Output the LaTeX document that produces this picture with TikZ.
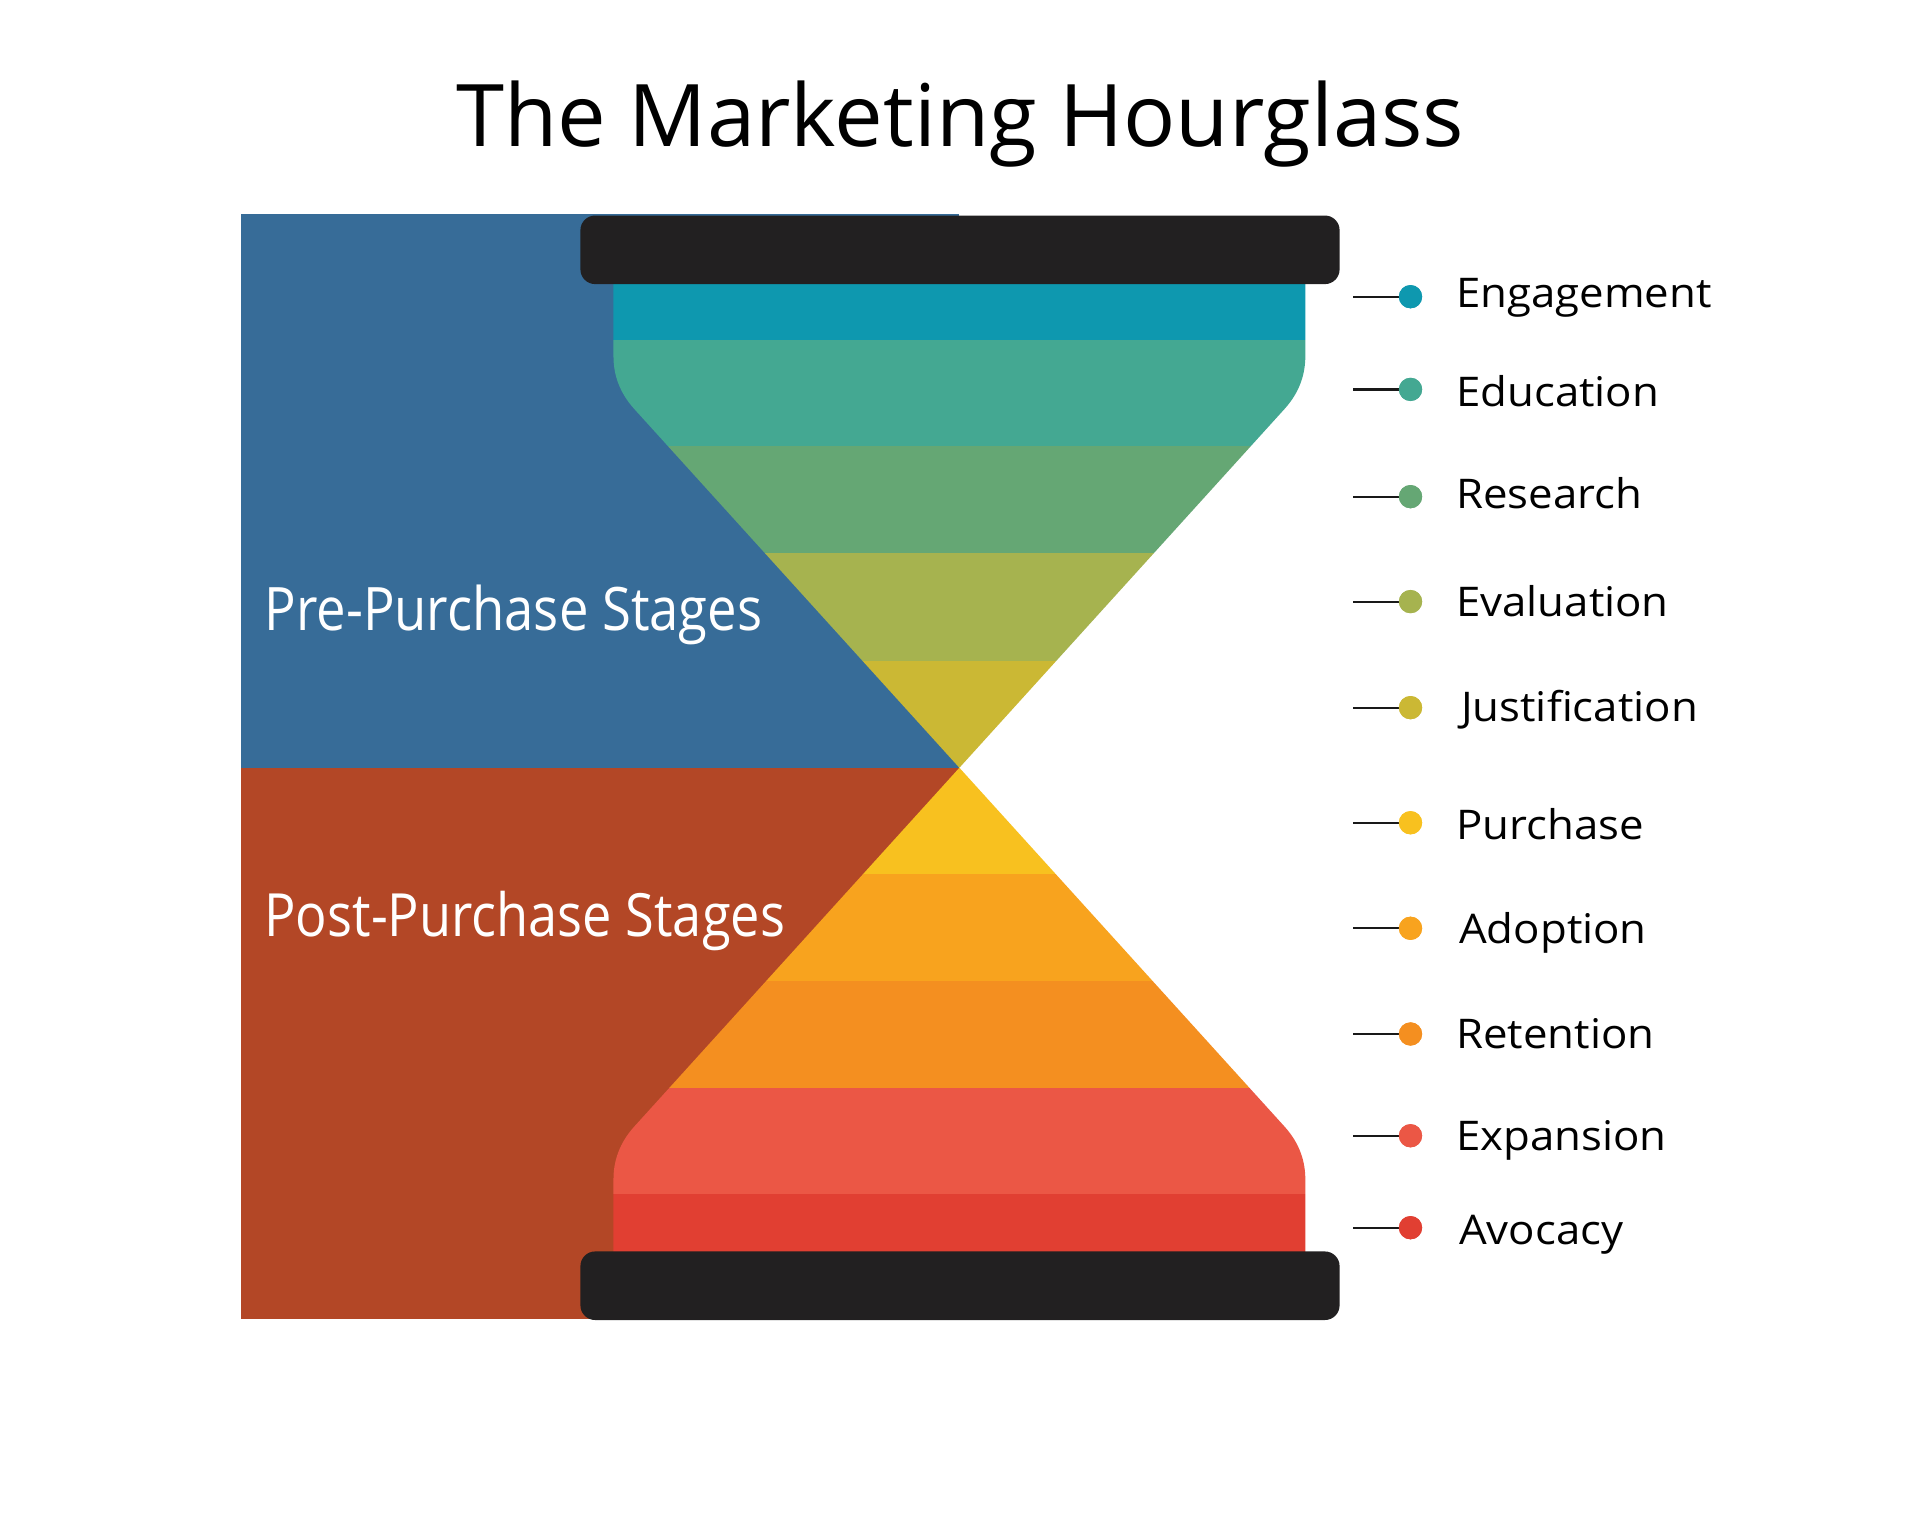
\documentclass[tikz,border=0pt]{standalone}
\usepackage{fontspec}
\setmainfont{Open Sans}
\usepackage{graphicx}
\definecolor{preblue}{RGB}{55,108,152}
\definecolor{postred}{RGB}{179,71,38}
\definecolor{barblack}{RGB}{34,32,33}
\definecolor{cEng}{RGB}{14,152,175}
\definecolor{cEdu}{RGB}{68,168,146}
\definecolor{cRes}{RGB}{101,167,116}
\definecolor{cEva}{RGB}{166,179,79}
\definecolor{cJus}{RGB}{203,184,52}
\definecolor{cPur}{RGB}{248,193,31}
\definecolor{cAdo}{RGB}{248,163,30}
\definecolor{cRet}{RGB}{244,143,32}
\definecolor{cExp}{RGB}{235,87,69}
\definecolor{cAvo}{RGB}{225,63,50}
\tikzset{
  legdot/.style={circle,inner sep=0pt,minimum size=19pt,fill=#1},
  leglabel/.style={anchor=base west,inner sep=0pt,font=\fontsize{33.4}{40}\selectfont,text=black},
  legline/.style={draw=black!90,line width=1.8pt},
  barshape/.style={fill=barblack,rounded corners=12pt},
  stagelabel/.style={anchor=base west,inner sep=0pt,text=white},
}
\begin{document}
\begin{tikzpicture}[x=1pt,y=-1pt]
\useasboundingbox (0,0) rectangle (1568,1254);
\fill[white] (0,0) rectangle (1568,1254);
% title
\node[anchor=base west,inner sep=0pt] (title) at (372.5,119.3) {\resizebox{823pt}{53.6pt}{The Marketing Hourglass}};
% stage panels
\fill[preblue] (197,175) rectangle (783.5,627);
\fill[postred] (197,627) rectangle (783.5,1077.5);
% upper bulb
\begin{scope}
\clip (501,228) -- (501,291) .. controls (501,305) and (505.3,320) .. (518,334) -- (783.5,627)
      -- (1049,334) .. controls (1061.7,320) and (1066,305) .. (1066,291) -- (1066,228) -- cycle;
\fill[cEng] (490,228) rectangle (1080,277.5);
\fill[cEdu] (490,277.5) rectangle (1080,364.5);
\fill[cRes] (490,364.5) rectangle (1080,452);
\fill[cEva] (490,452) rectangle (1080,539.5);
\fill[cJus] (490,539.5) rectangle (1080,627);
\end{scope}
% lower bulb
\begin{scope}
\clip (501,1026) -- (501,963) .. controls (501,949) and (505.3,934) .. (518,920) -- (783.5,627)
      -- (1049,920) .. controls (1061.7,934) and (1066,949) .. (1066,963) -- (1066,1026) -- cycle;
\fill[cPur] (490,627) rectangle (1080,713.5);
\fill[cAdo] (490,713.5) rectangle (1080,801);
\fill[cRet] (490,801) rectangle (1080,888.5);
\fill[cExp] (490,888.5) rectangle (1080,975);
\fill[cAvo] (490,975) rectangle (1080,1026);
\end{scope}
% caps
\fill[barshape] (474,176) rectangle (1094,232);
\fill[barshape] (474,1022) rectangle (1094,1078);
% stage labels
\node[stagelabel] (pre) at (215.8,515) {\resizebox{406.5pt}{37.2pt}{Pre-Purchase Stages}};
\node[stagelabel] (post) at (215.8,764.4) {\resizebox{425pt}{37pt}{Post-Purchase Stages}};
% legend
\foreach \nm/\col/\dy/\tx/\by/\txt in {
  eng/cEng/242.3/1189/251.0/Engagement,
  edu/cEdu/318/1189/332.1/Education,
  res/cRes/405.6/1189/415.1/Research,
  eva/cEva/491.3/1189/503.6/Evaluation,
  jus/cJus/577.9/1193/589.4/Justification,
  pur/cPur/671.9/1189/685.4/Purchase,
  ado/cAdo/758.1/1191.5/770.4/Adoption,
  ret/cRet/844.4/1189/856.1/Retention,
  exp/cExp/927.5/1189/939.7/Expansion,
  avo/cAvo/1002.6/1191.5/1016.7/Avocacy}{
  \coordinate (s-\nm) at (1105.3,\dy);
  \node[legdot=\col] (d-\nm) at (1151.9,\dy) {};
  \draw[legline] (s-\nm) -- (d-\nm.center);
  \fill[\col] (d-\nm) circle (9.5pt);
  \node[leglabel] (t-\nm) at (\tx,\by) {\scalebox{1.07}[1]{\txt}};
}
\end{tikzpicture}
\end{document}
